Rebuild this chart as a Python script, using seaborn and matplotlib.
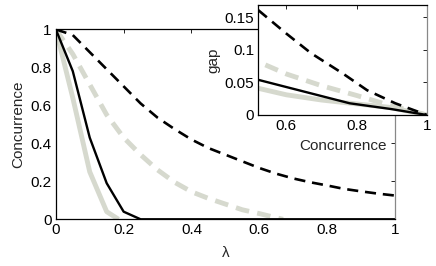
import numpy as np
import pandas as pd
import matplotlib
matplotlib.use('Agg')
import matplotlib.pyplot as plt
import seaborn as sns
from matplotlib.ticker import FormatStrFormatter

sns.set_style('white')
plt.rcParams['font.family'] = ['Liberation Sans', 'DejaVu Sans']

# main panel: concurrence vs lambda
lam_bs = [0, 0.05, 0.1, 0.15, 0.2, 0.25, 0.5, 0.75, 1.0]
conc_bs = [1, 0.78, 0.43, 0.19, 0.04, 0, 0, 0, 0]

lam_gs = [0, 0.05, 0.1, 0.15, 0.185]
conc_gs = [1, 0.64, 0.25, 0.04, 0]

lam_gd = [0, 0.05, 0.1, 0.15, 0.2, 0.25, 0.3, 0.35, 0.4, 0.45, 0.5, 0.55, 0.6, 0.65, 0.67]
conc_gd = [1, 0.87, 0.71, 0.55, 0.43, 0.34, 0.26, 0.195, 0.145, 0.11, 0.08, 0.05, 0.03, 0.008, 0]

lam_bd = [0, 0.05, 0.1, 0.15, 0.2, 0.25, 0.3, 0.35, 0.4, 0.45, 0.5,
          0.55, 0.6, 0.65, 0.7, 0.75, 0.8, 0.85, 0.9, 0.95, 1.0]
conc_bd = [1, 0.97, 0.88, 0.79, 0.70, 0.61, 0.535, 0.475, 0.42, 0.375, 0.34,
           0.305, 0.27, 0.24, 0.215, 0.195, 0.178, 0.16, 0.147, 0.135, 0.125]

# inset: gap vs concurrence
c_bd = [0.52, 0.6, 0.67, 0.76, 0.83, 0.91, 1.0]
gap_bd = [0.161, 0.125, 0.095, 0.064, 0.038, 0.018, 0]

c_gd = [0.54, 0.6, 0.7, 0.8, 0.9, 1.0]
gap_gd = [0.077, 0.063, 0.045, 0.03, 0.014, 0]

c_bs = [0.52, 0.65, 0.78, 0.9, 1.0]
gap_bs = [0.054, 0.036, 0.018, 0.009, 0]

c_gs = [0.52, 0.6, 0.7, 0.8, 0.89, 1.0]
gap_gs = [0.041, 0.031, 0.023, 0.017, 0.012, 0]

gray = '#d6d9ce'
fs = 11

fig = plt.figure(figsize=(4.36, 2.66), dpi=100)
ax = fig.add_axes([0.128, 0.1756, 0.778, 0.714])

sns.lineplot(x=lam_gs, y=conc_gs, ax=ax, color=gray, lw=3.5, solid_capstyle='butt')
sns.lineplot(x=lam_gd, y=conc_gd, ax=ax, color=gray, lw=3.5)
ax.lines[-1].set_dashes([2.8, 1.7])
sns.lineplot(x=lam_bd, y=conc_bd, ax=ax, color='black', lw=1.9)
ax.lines[-1].set_dashes([4.2, 2.6])
sns.lineplot(x=lam_bs, y=conc_bs, ax=ax, color='black', lw=1.7)

ax.set_xlim(0, 1)
ax.set_ylim(0, 1)
ax.set_xticks([0, 0.2, 0.4, 0.6, 0.8, 1])
ax.set_yticks([0, 0.2, 0.4, 0.6, 0.8, 1])
ax.xaxis.set_major_formatter(FormatStrFormatter('%g'))
ax.yaxis.set_major_formatter(FormatStrFormatter('%g'))
ax.tick_params(direction='in', length=3, width=0.6, top=True, right=True,
               labelsize=fs, pad=3, colors='black')
ax.set_xlabel('λ', fontsize=fs, labelpad=6)
ax.set_ylabel('Concurrence', fontsize=fs, labelpad=4)
for s in ax.spines.values():
    s.set_color('black')
    s.set_linewidth(0.9)
ax.spines['right'].set_color('#888888')

ins = fig.add_axes([0.5925, 0.5677, 0.3865, 0.4135])
sns.lineplot(x=c_gs, y=gap_gs, ax=ins, color=gray, lw=3.5)
sns.lineplot(x=c_gd, y=gap_gd, ax=ins, color=gray, lw=3.5)
ins.lines[-1].set_dashes([2.8, 1.7])
sns.lineplot(x=c_bd, y=gap_bd, ax=ins, color='black', lw=1.9)
ins.lines[-1].set_dashes([4.2, 2.6])
sns.lineplot(x=c_bs, y=gap_bs, ax=ins, color='black', lw=1.7)

ins.set_xlim(0.52, 1)
ins.set_ylim(0, 0.169)
ins.set_xticks([0.6, 0.8, 1])
ins.set_yticks([0, 0.05, 0.1, 0.15])
ins.xaxis.set_major_formatter(FormatStrFormatter('%g'))
ins.yaxis.set_major_formatter(FormatStrFormatter('%g'))
ins.tick_params(direction='in', length=3, width=0.6, top=True, right=True,
                labelsize=fs, pad=3, colors='black')
ins.set_xlabel('Concurrence', fontsize=fs, labelpad=4)
ins.set_ylabel('gap', fontsize=fs, labelpad=3)
for s in ins.spines.values():
    s.set_color('black')
    s.set_linewidth(0.9)
ins.spines['right'].set_color('#888888')

fig.savefig('out.png', dpi=100)
